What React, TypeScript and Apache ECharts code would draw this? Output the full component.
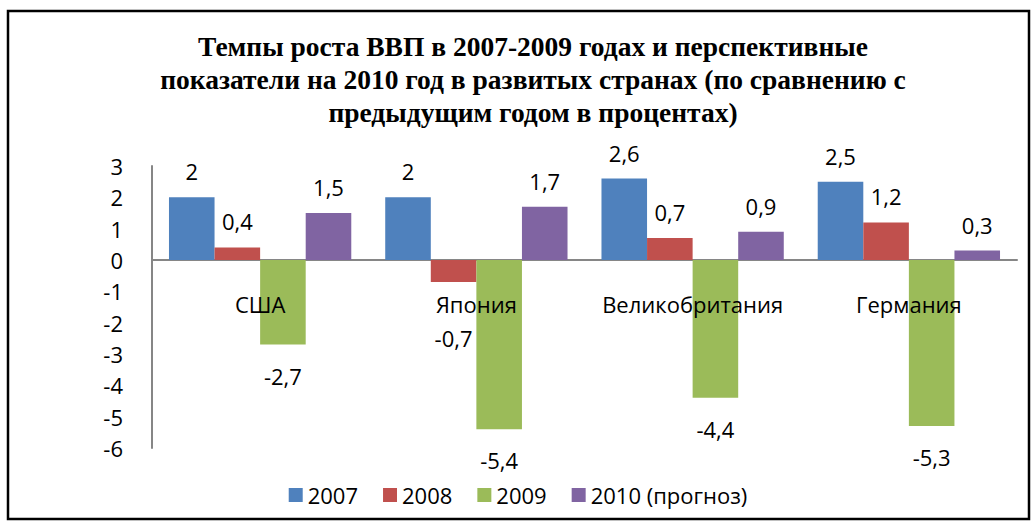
import React, { useEffect, useRef } from "react";
import * as echarts from "echarts";

const categories = ["США", "Япония", "Великобритания", "Германия"];
const seriesNames = ["2007", "2008", "2009", "2010 (прогноз)"];
const values2007 = [2, 2, 2.6, 2.5];
const values2008 = [0.4, -0.7, 0.7, 1.2];
const values2009 = [-2.7, -5.4, -4.4, -5.3];
const values2010 = [1.5, 1.7, 0.9, 0.3];
const colors = ["#4F81BD", "#C0504D", "#9BBB59", "#8064A2"];
const titleText =
  "Темпы роста ВВП в 2007-2009 годах и перспективные\nпоказатели на 2010 год в развитых странах (по сравнению с\nпредыдущим годом в процентах)";

const FONT = "'Open Sans', sans-serif";

function makeData(vals: number[], seriesIdx: number) {
  return vals.map((v, i) => {
    const neg = v < 0;
    let distance = neg ? 20 : 15;
    if (seriesIdx === 1 && i === 1) distance = 45;
    return {
      value: v,
      label: {
        show: true,
        position: neg ? "bottom" : "top",
        distance,
        formatter: () => String(v).replace(".", ","),
        fontSize: 22,
        fontFamily: FONT,
        color: "#000",
      },
    };
  });
}

export default function App() {
  const ref = useRef<HTMLDivElement>(null);
  useEffect(() => {
    if (!ref.current) return;
    const chart = echarts.init(ref.current, undefined, { renderer: "svg" });
    const all = [values2007, values2008, values2009, values2010];
    chart.setOption({
      animation: false,
      backgroundColor: "#fff",
      title: {
        text: titleText,
        left: 528,
        top: 25,
        textAlign: "center",
        textStyle: {
          fontFamily: "'Liberation Serif', 'Times New Roman', serif",
          fontWeight: "bold",
          fontSize: 27.5,
          lineHeight: 33,
          color: "#000",
        },
      },
      graphic: [
        {
          type: "rect",
          shape: { x: 8, y: 11, width: 1021, height: 508 },
          style: { fill: "none", stroke: "#000", lineWidth: 2.5 },
          silent: true,
        },
      ],
      legend: {
        top: 479,
        left: "center",
        icon: "rect",
        itemWidth: 14,
        itemHeight: 14,
        itemGap: 25,
        textStyle: { fontSize: 22, fontFamily: FONT, color: "#000" },
        data: seriesNames,
      },
      grid: { left: 152, right: 19, top: 166, bottom: 78, containLabel: false },
      xAxis: [
        {
          type: "category",
          data: categories,
          axisLine: { onZero: true, lineStyle: { color: "#868686", width: 2 } },
          axisTick: { show: false },
          axisLabel: { show: false },
        },
        {
          type: "category",
          data: categories,
          position: "bottom",
          offset: -155,
          z: 10,
          axisLine: { show: false, onZero: false },
          axisTick: { show: false },
          axisLabel: {
            interval: 0,
            fontSize: 22,
            fontFamily: FONT,
            color: "#000",
            margin: 0,
          },
        },
      ],
      yAxis: {
        type: "value",
        min: -6,
        max: 3,
        interval: 1,
        axisLine: { show: true, lineStyle: { color: "#868686", width: 2 } },
        axisTick: { show: false },
        splitLine: { show: false },
        axisLabel: { fontSize: 22, fontFamily: FONT, color: "#000", margin: 29 },
      },
      series: all.map((vals, idx) => ({
        name: seriesNames[idx],
        type: "bar",
        xAxisIndex: 0,
        data: makeData(vals, idx),
        barGap: "0%",
        barCategoryGap: "15.7%",
        itemStyle: { color: colors[idx] },
      })),
    });
    return () => chart.dispose();
  }, []);
  return (
    <div
      ref={ref}
      style={{ position: "fixed", left: 0, top: 0, width: 1036, height: 526 }}
    />
  );
}
